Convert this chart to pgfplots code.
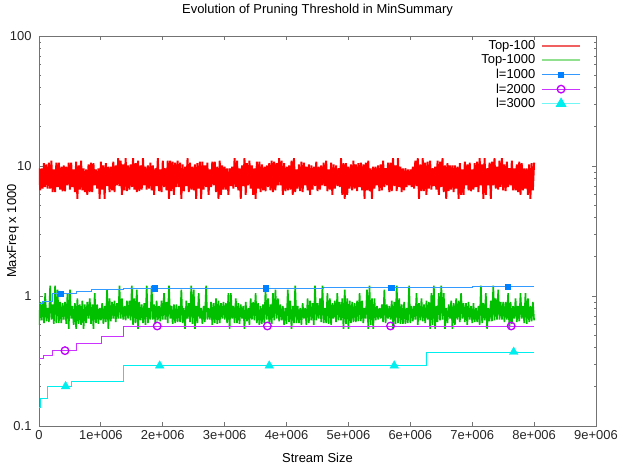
\documentclass[border=0pt]{standalone}
\usepackage{fontspec}
\setmainfont{Liberation Sans}
\usepackage{pgfplots}
\usepackage{pgfplotstable}
\pgfplotsset{compat=1.18}
\definecolor{gpred}{HTML}{FF0000}
\definecolor{gpgreen}{HTML}{00C000}
\definecolor{gpblue}{HTML}{0080FF}
\definecolor{gpmag}{HTML}{C000FF}
\definecolor{gpcyan}{HTML}{00EEEE}
\definecolor{legred}{HTML}{F06060}
\definecolor{leggreen}{HTML}{90E090}
\newcommand{\gpfont}{\fontsize{13}{15}\selectfont}
% x in units of 1e6
\pgfplotstableread{
x r g
0.00 9.6 0.60
0.02 6.5 0.90
0.04 9.6 0.65
0.06 6.7 0.90
0.08 10.5 0.62
0.10 6.9 1.05
0.12 10.3 0.64
0.14 6.7 0.81
0.16 10.6 0.63
0.18 6.7 1.20
0.20 11.0 0.66
0.22 6.3 0.86
0.24 9.4 0.61
0.26 6.3 1.20
0.28 10.6 0.62
0.30 6.9 1.12
0.32 10.6 0.62
0.34 6.6 0.90
0.36 9.9 0.62
0.38 6.4 0.88
0.40 10.1 0.66
0.42 6.4 0.90
0.44 9.9 0.61
0.46 7.1 1.05
0.48 10.6 0.56
0.50 6.6 1.12
0.52 10.6 0.67
0.54 6.9 0.84
0.56 9.4 0.60
0.58 6.3 0.88
0.60 10.8 0.56
0.62 5.6 0.96
0.64 10.1 0.61
0.66 6.6 0.86
0.68 11.0 0.60
0.70 6.5 0.92
0.72 9.6 0.56
0.74 6.3 0.86
0.76 9.4 0.62
0.78 6.0 0.90
0.80 10.3 0.67
0.82 6.3 0.96
0.84 10.6 0.61
0.86 6.3 0.86
0.88 10.5 0.56
0.90 7.1 1.05
0.92 9.4 0.62
0.94 6.7 0.86
0.96 9.6 0.61
0.98 5.6 0.81
1.00 10.8 0.65
1.02 6.6 0.88
1.04 10.1 0.61
1.06 5.6 0.84
1.08 10.5 0.63
1.10 7.0 1.12
1.12 9.9 0.56
1.14 6.3 0.96
1.16 9.9 0.64
1.18 6.5 0.90
1.20 10.8 0.67
1.22 6.3 0.92
1.24 10.1 0.63
1.26 7.1 0.88
1.28 11.5 0.67
1.30 7.0 1.20
1.32 11.0 0.67
1.34 6.0 0.96
1.36 10.3 0.66
1.38 6.5 0.84
1.40 11.5 0.65
1.42 6.4 0.92
1.44 10.1 0.67
1.46 6.6 0.92
1.48 10.3 0.65
1.50 6.9 1.20
1.52 11.5 0.60
1.54 6.6 0.96
1.56 10.5 0.62
1.58 6.3 1.12
1.60 11.0 0.56
1.62 6.4 0.90
1.64 10.1 0.65
1.66 6.6 0.86
1.68 11.5 0.62
1.70 7.1 0.88
1.72 9.9 0.60
1.74 6.6 1.20
1.76 10.1 0.62
1.78 6.7 0.81
1.80 10.6 0.66
1.82 6.5 1.20
1.84 10.1 0.66
1.86 6.0 0.86
1.88 9.6 0.61
1.90 7.0 0.92
1.92 11.5 0.65
1.94 6.4 0.84
1.96 9.4 0.64
1.98 6.3 0.92
2.00 11.0 0.66
2.02 6.9 1.05
2.04 9.6 0.66
2.06 6.5 0.90
2.08 11.0 0.62
2.10 5.6 1.20
2.12 11.0 0.67
2.14 6.4 0.84
2.16 10.8 0.61
2.18 6.0 0.86
2.20 10.6 0.62
2.22 6.9 0.86
2.24 11.0 0.63
2.26 6.9 0.84
2.28 10.6 0.63
2.30 5.6 1.12
2.32 10.3 0.62
2.34 6.4 0.81
2.36 9.9 0.56
2.38 7.0 0.92
2.40 11.5 0.67
2.42 6.3 0.88
2.44 10.6 0.63
2.46 6.6 1.20
2.48 9.9 0.61
2.50 6.5 1.12
2.52 10.3 0.56
2.54 5.6 0.84
2.56 10.5 0.62
2.58 6.7 1.05
2.60 10.8 0.67
2.62 5.6 0.81
2.64 10.8 0.61
2.66 6.6 0.84
2.68 10.1 0.63
2.70 6.9 1.20
2.72 10.6 0.66
2.74 6.0 0.81
2.76 9.4 0.66
2.78 6.9 0.90
2.80 10.8 0.60
2.82 7.1 0.88
2.84 10.8 0.62
2.86 6.3 0.96
2.88 9.9 0.61
2.90 5.6 0.92
2.92 11.0 0.62
2.94 6.0 0.88
2.96 10.1 0.67
2.98 6.6 0.90
3.00 9.9 0.66
3.02 6.6 0.88
3.04 9.6 0.62
3.06 6.0 1.05
3.08 9.6 0.56
3.10 7.0 1.05
3.12 9.9 0.67
3.14 6.7 0.84
3.16 11.5 0.62
3.18 6.9 0.96
3.20 11.0 0.62
3.22 6.5 0.88
3.24 9.6 0.61
3.26 5.6 0.86
3.28 10.1 0.67
3.30 7.0 0.84
3.32 11.5 0.56
3.34 6.0 0.90
3.36 10.5 0.64
3.38 7.1 0.81
3.40 11.0 0.60
3.42 6.7 0.96
3.44 10.1 0.66
3.46 6.0 0.90
3.48 9.6 0.65
3.50 5.6 1.05
3.52 10.8 0.62
3.54 6.7 0.88
3.56 10.8 0.60
3.58 6.3 0.84
3.60 10.3 0.61
3.62 6.5 0.86
3.64 9.9 0.62
3.66 6.4 1.12
3.68 10.1 0.66
3.70 6.9 0.96
3.72 10.5 0.62
3.74 6.5 0.86
3.76 11.0 0.61
3.78 6.3 1.05
3.80 10.8 0.65
3.82 6.5 1.12
3.84 10.5 0.67
3.86 7.1 0.96
3.88 11.5 0.64
3.90 7.1 0.86
3.92 11.0 0.65
3.94 6.0 0.84
3.96 10.5 0.60
3.98 6.4 0.81
4.00 9.9 0.61
4.02 6.5 1.12
4.04 10.1 0.63
4.06 6.6 0.92
4.08 11.0 0.56
4.10 6.0 0.84
4.12 11.5 0.62
4.14 6.3 1.20
4.16 9.4 0.62
4.18 6.7 0.84
4.20 10.3 0.62
4.22 6.4 0.81
4.24 10.8 0.60
4.26 6.3 0.88
4.28 10.6 0.67
4.30 7.1 0.81
4.32 9.9 0.60
4.34 6.5 0.96
4.36 10.3 0.62
4.38 6.0 0.92
4.40 10.1 0.65
4.42 6.6 0.88
4.44 9.9 0.60
4.46 7.0 1.20
4.48 10.8 0.65
4.50 6.4 0.88
4.52 9.9 0.67
4.54 6.6 0.96
4.56 10.1 0.63
4.58 7.1 1.20
4.60 10.6 0.62
4.62 7.0 0.81
4.64 11.0 0.62
4.66 6.4 1.05
4.68 9.4 0.61
4.70 6.6 0.96
4.72 10.6 0.60
4.74 6.0 0.88
4.76 10.3 0.67
4.78 6.7 0.92
4.80 10.1 0.63
4.82 7.0 1.05
4.84 9.6 0.65
4.86 6.9 0.90
4.88 11.5 0.65
4.90 6.0 0.96
4.92 10.5 0.56
4.94 5.6 1.12
4.96 10.5 0.61
4.98 6.0 0.96
5.00 9.9 0.56
5.02 6.7 0.92
5.04 10.3 0.62
5.06 6.5 0.90
5.08 11.0 0.63
5.10 6.7 0.88
5.12 10.3 0.63
5.14 6.4 0.92
5.16 10.5 0.64
5.18 6.9 1.05
5.20 10.6 0.64
5.22 6.5 0.92
5.24 10.3 0.62
5.26 5.6 0.81
5.28 10.6 0.67
5.30 6.5 1.12
5.32 11.0 0.56
5.34 6.4 1.20
5.36 9.6 0.60
5.38 5.6 0.96
5.40 9.9 0.56
5.42 6.7 0.96
5.44 9.9 0.65
5.46 7.1 0.84
5.48 10.1 0.66
5.50 6.4 0.81
5.52 10.3 0.67
5.54 6.5 0.86
5.56 11.0 0.63
5.58 6.9 1.12
5.60 9.6 0.62
5.62 7.1 0.86
5.64 10.6 0.67
5.66 6.3 0.84
5.68 10.6 0.66
5.70 6.4 0.92
5.72 11.5 0.56
5.74 7.0 0.90
5.76 10.1 0.61
5.78 6.4 1.20
5.80 11.5 0.62
5.82 6.9 0.96
5.84 9.9 0.61
5.86 6.3 0.86
5.88 9.6 0.61
5.90 6.5 0.90
5.92 9.6 0.61
5.94 6.9 0.81
5.96 9.4 0.62
5.98 7.1 1.20
6.00 9.4 0.62
6.02 6.9 0.84
6.04 9.9 0.64
6.06 6.7 0.84
6.08 11.0 0.66
6.10 7.0 1.05
6.12 11.5 0.60
6.14 5.6 0.88
6.16 10.3 0.65
6.18 6.4 0.96
6.20 11.5 0.64
6.22 6.4 0.86
6.24 10.6 0.62
6.26 6.0 0.92
6.28 10.8 0.66
6.30 6.7 0.90
6.32 11.0 0.56
6.34 6.6 1.05
6.36 9.6 0.60
6.38 7.0 1.20
6.40 9.9 0.56
6.42 6.6 0.84
6.44 11.0 0.63
6.46 6.0 1.05
6.48 10.8 0.65
6.50 6.9 1.20
6.52 11.5 0.66
6.54 6.3 1.05
6.56 10.1 0.56
6.58 5.6 0.81
6.60 10.5 0.62
6.62 6.4 0.86
6.64 10.1 0.67
6.66 6.6 0.92
6.68 10.1 0.56
6.70 6.3 0.88
6.72 10.1 0.60
6.74 6.7 0.96
6.76 9.9 0.66
6.78 5.6 0.92
6.80 10.5 0.63
6.82 6.0 1.05
6.84 9.4 0.67
6.86 6.0 0.88
6.88 10.8 0.63
6.90 7.1 0.88
6.92 10.3 0.60
6.94 6.5 0.90
6.96 10.6 0.66
6.98 6.4 0.84
7.00 9.4 0.62
7.02 6.6 0.88
7.04 10.5 0.63
7.06 6.9 0.81
7.08 10.8 0.63
7.10 6.3 0.84
7.12 11.5 0.60
7.14 7.1 1.20
7.16 10.3 0.62
7.18 5.6 0.88
7.20 11.5 0.65
7.22 6.0 1.05
7.24 9.6 0.56
7.26 7.1 0.81
7.28 10.6 0.64
7.30 5.6 0.92
7.32 10.8 0.64
7.34 7.1 1.20
7.36 11.5 0.65
7.38 6.7 0.96
7.40 9.9 0.66
7.42 6.6 1.12
7.44 11.0 0.66
7.46 6.9 0.90
7.48 11.5 0.66
7.50 6.5 0.90
7.52 10.3 0.63
7.54 6.4 0.90
7.56 10.8 0.66
7.58 6.9 1.05
7.60 9.6 0.56
7.62 7.1 0.90
7.64 11.0 0.61
7.66 6.5 0.84
7.68 9.6 0.67
7.70 6.5 0.96
7.72 10.3 0.63
7.74 6.3 0.84
7.76 10.8 0.64
7.78 6.0 1.05
7.80 10.5 0.67
7.82 6.5 0.84
7.84 9.6 0.62
7.86 6.7 1.05
7.88 9.6 0.61
7.90 6.0 0.96
7.92 10.3 0.63
7.94 5.6 0.84
7.96 10.5 0.64
7.98 6.5 0.90
8.00 10.6 0.65
}\noise
\pgfplotstableread{
x y
0.00 0.880
0.06 0.905
0.22 1.040
0.61 1.087
0.84 1.118
1.37 1.150
4.60 1.160
7.00 1.180
8.00 1.180
}\lonek
\pgfplotstableread{
x y
0.355 1.04
1.87 1.15
3.66 1.15
5.69 1.16
7.57 1.18
}\lonekm
\pgfplotstableread{
x y
0.000 0.305
0.015 0.328
0.07 0.347
0.22 0.380
0.61 0.432
1.01 0.490
1.37 0.588
8.00 0.588
}\ltwok
\pgfplotstableread{
x y
0.42 0.380
1.91 0.588
3.69 0.588
5.68 0.588
7.63 0.588
}\ltwokm
\pgfplotstableread{
x y
0.00 0.139
0.03 0.164
0.13 0.202
0.52 0.221
1.37 0.291
6.26 0.371
8.00 0.371
}\lthreek
\pgfplotstableread{
x y
0.43 0.202
1.95 0.291
3.72 0.291
5.74 0.291
7.67 0.371
}\lthreekm
\begin{document}
\begin{tikzpicture}
\begin{axis}[
  name=ax,
  scale only axis,
  width=557bp, height=390bp,
  xmin=0, xmax=9,
  ymode=log, ymin=0.1, ymax=100,
  xtick={0,1,2,3,4,5,6,7,8,9},
  xticklabels={0,1e+006,2e+006,3e+006,4e+006,5e+006,6e+006,7e+006,8e+006,9e+006},
  ytick={0.1,1,10,100},
  yticklabels={0.1,1,10,100},
  minor ytick={0.2,0.3,0.4,0.5,0.6,0.7,0.8,0.9,2,3,4,5,6,7,8,9,20,30,40,50,60,70,80,90},
  /pgf/number format/assume math mode=true,
  tick align=inside,
  major tick length=4.5bp,
  minor tick length=2.5bp,
  axis line style={black!55, line width=0.8bp},
  every tick/.style={black!55, line width=0.8bp},
  tick label style={font=\gpfont, black!85},
  xticklabel style={yshift=-1bp},
  yticklabel style={xshift=-4bp},
  title={Evolution of Pruning Threshold in MinSummary},
  title style={font=\gpfont, at={(axis description cs:0.5,1)}, anchor=base, yshift=17bp},
  xlabel={Stream Size},
  xlabel style={font=\gpfont, at={(axis description cs:0.5,0)}, anchor=center, yshift=-32bp},
  ylabel={MaxFreq x 1000},
  ylabel style={font=\gpfont, at={(axis description cs:-0.0467,0.5)}, anchor=center},
  legend plot pos=right,
  legend cell align=right,
  legend image code/.code={\draw[mark repeat=2,mark phase=2,#1] plot coordinates {(0bp,0bp) (19bp,0bp) (38bp,0bp)};},
  legend style={font=\gpfont, draw=none, fill=none, at={(axis description cs:1,1)}, anchor=north east, xshift=-12bp, yshift=-0.5bp, row sep=-0.3bp, column sep=4bp},
]
\addplot[gpred, line width=1.9bp, line join=bevel, forget plot] table[x=x,y=r]{\noise};
\addplot[gpgreen, line width=1.6bp, line join=bevel, forget plot] table[x=x,y=g]{\noise};
\addplot[gpblue!80, line width=0.9bp, const plot, forget plot] table[x=x,y=y]{\lonek};
\addplot[gpblue, only marks, mark=square*, mark size=2.6bp, forget plot] table[x=x,y=y]{\lonekm};
\addplot[gpmag!80, line width=0.9bp, const plot, forget plot] table[x=x,y=y]{\ltwok};
\addplot[gpmag, only marks, mark=o, mark size=3.8bp, line width=1.3bp, forget plot] table[x=x,y=y]{\ltwokm};
\addplot[gpcyan, line width=0.9bp, const plot, forget plot] table[x=x,y=y]{\lthreek};
\addplot[gpcyan, only marks, mark=triangle*, mark size=5bp, forget plot] table[x=x,y=y]{\lthreekm};
\addlegendimage{color=legred, line width=1.1bp}
\addlegendentry{Top-100}
\addlegendimage{color=leggreen, line width=1.5bp}
\addlegendentry{Top-1000}
\addlegendimage{color=gpblue!80, line width=0.9bp, mark=square*, mark size=2.6bp, mark options={fill=gpblue, draw=gpblue}}
\addlegendentry{l=1000}
\addlegendimage{color=gpmag!80, line width=0.9bp, mark=o, mark size=3.8bp, mark options={line width=1.3bp, draw=gpmag}}
\addlegendentry{l=2000}
\addlegendimage{color=gpcyan!55, line width=1.4bp, mark=triangle*, mark size=5bp, mark options={fill=gpcyan, draw=gpcyan}}
\addlegendentry{l=3000}
\end{axis}
\path (ax.south west) ++(-39bp,-40bp) coordinate (bl);
\path (ax.north east) ++(22bp,36bp) coordinate (tr);
\pgfresetboundingbox
\path (bl) rectangle (tr);
\end{tikzpicture}
\end{document}
